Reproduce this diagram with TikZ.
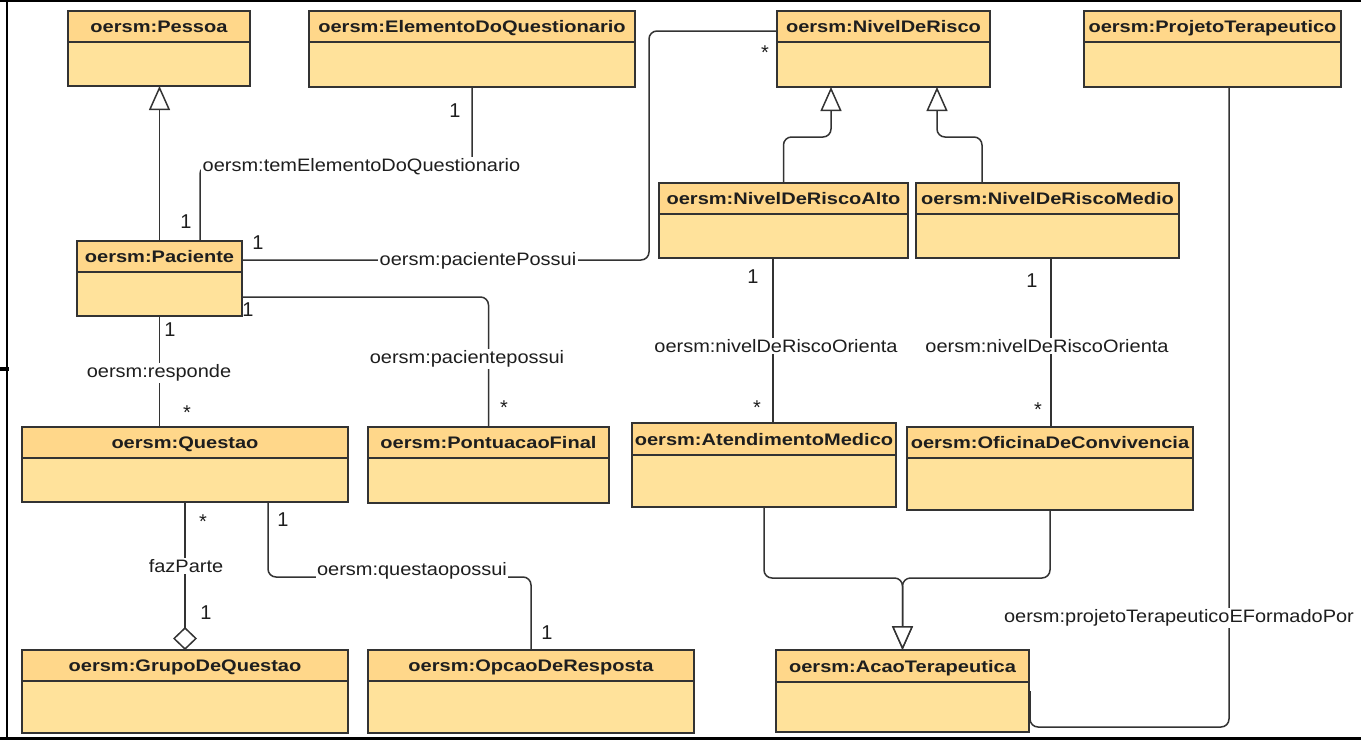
\documentclass[tikz,border=0pt]{standalone}
\usepackage{fontspec}
\setmainfont{Liberation Sans}
\newfontfamily\hdrfont[FakeStretch=1.2]{Liberation Sans}
\newfontfamily\lblfont[FakeStretch=1.11]{Liberation Sans}
\usetikzlibrary{arrows.meta}
\definecolor{hdrfill}{HTML}{FFD78A}
\definecolor{bodyfill}{HTML}{FFE29B}
\definecolor{edge}{HTML}{333333}
\definecolor{ink}{HTML}{1E1E1E}
\tikzset{
 classbox/.style={draw=edge, line width=1.8pt, fill=bodyfill, inner sep=0pt, outer sep=0pt, rectangle},
 hdrtext/.style={font=\hdrfont\bfseries\fontsize{16.7}{18}\selectfont, text=ink, inner sep=0pt, text height=12pt, text depth=0pt},
 lbl/.style={font=\lblfont\fontsize{18}{20}\selectfont, text=ink, fill=white, inner sep=1.5pt},
 mult/.style={font=\fontsize{20}{22}\selectfont, text=ink, inner sep=0pt},
 assoc/.style={draw=edge, line width=1.5pt, rounded corners=8pt},
 gen/.style={assoc, -{Triangle[length=24pt,width=21pt,fill=white]}},
 agg/.style={assoc, -{Diamond[length=23pt,width=24pt,fill=white]}},
}
\newcommand\umlclass[7]{%
 \node[classbox, minimum width={(#4-#2)*1pt}, minimum height={(#5-#3)*1pt}] (#1) at ({(#2+#4)/2},{(#3+#5)/2}) {};
 \fill[hdrfill] (#2,#3) rectangle (#4,#6);
 \draw[draw=edge, line width=1.8pt] (#2,#6) -- (#4,#6);
 \draw[draw=edge, line width=1.8pt] (#1.north west) rectangle (#1.south east);
 \node[hdrtext] (#1-t) at ({(#2+#4)/2},{(#3+#6)/2}) {#7};
}
\begin{document}
\begin{tikzpicture}[x=1pt,y=-1pt]
\useasboundingbox (0,0) rectangle (1361,740);
% frame
\draw[line width=2.5pt, black] (0,1) -- (1361,1);
\draw[line width=2.5pt, black] (7,0) -- (7,740);
\draw[line width=4pt, black] (0,369) -- (9,369);
\draw[line width=3pt, black] (0,738) -- (1361,738);
% classes
\umlclass{pessoa}{68}{11}{250}{86}{42}{oersm:Pessoa}
\umlclass{elem}{309}{11}{635}{87}{42}{oersm:ElementoDoQuestionario}
\umlclass{nivel}{777}{11}{990}{87}{42}{oersm:NivelDeRisco}
\umlclass{projeto}{1084}{11}{1341}{87}{42}{oersm:ProjetoTerapeutico}
\umlclass{paciente}{77}{241}{242}{316}{272}{oersm:Paciente}
\umlclass{alto}{659}{183}{908}{258}{214}{oersm:NivelDeRiscoAlto}
\umlclass{medio}{916}{183}{1179}{258}{214}{oersm:NivelDeRiscoMedio}
\umlclass{questao}{22}{427}{348}{502}{458}{oersm:Questao}
\umlclass{pontuacao}{368}{427}{609}{503}{458}{oersm:PontuacaoFinal}
\umlclass{atend}{632}{423}{896}{507}{455}{oersm:AtendimentoMedico}
\umlclass{oficina}{907}{427}{1193}{510}{458}{oersm:OficinaDeConvivencia}
\umlclass{grupo}{22}{650}{348}{733}{681}{oersm:GrupoDeQuestao}
\umlclass{opcao}{368}{650}{694}{733}{681}{oersm:OpcaoDeResposta}
\umlclass{acao}{776}{650}{1029}{732}{682}{oersm:AcaoTerapeutica}
% Paciente -> Pessoa
\draw[gen] (paciente.north) -- (paciente.north |- pessoa.south);
% temElementoDoQuestionario
\draw[assoc] ([xshift=40.5pt]paciente.north) -- ++(0,-75) -| (elem.south);
\node[lbl] (l1) at (361.5,167) {oersm:temElementoDoQuestionario};
\node[mult] (m1) at (455,111) {1};
\node[mult] (m2) at (186,222) {1};
% pacientePossui
\draw[assoc] ([yshift=18.5pt]paciente.east) -| (649,31) -- ([yshift=18pt]nivel.west);
\node[lbl] (l2) at (478,261) {oersm:pacientePossui};
\node[mult] (m3) at (258,243) {1};
\node[mult] (m4) at (765,53) {*};
% pacientepossui
\draw[assoc] ([yshift=-18.5pt]paciente.east) -| (pontuacao.north);
\node[lbl] (l3) at (467,359) {oersm:pacientepossui};
\node[mult] (m5) at (248,310) {1};
\node[mult] (m6) at (504,408) {*};
% responde
\draw[assoc] (paciente.south) -- (paciente.south |- questao.north);
\node[lbl] (l4) at (159,373) {oersm:responde};
\node[mult] (m7) at (170,330) {1};
\node[mult] (m8) at (187,413) {*};
% fazParte
\draw[agg] (questao.south) -- (grupo.north);
\node[lbl] (l5) at (186,566) {fazParte};
\node[mult] (m9) at (203,522) {*};
\node[mult] (m10) at (206,613) {1};
% questaopossui
\draw[assoc] ([xshift=83pt]questao.south) -- ++(0,75) -| (opcao.north);
\node[lbl] (l6) at (412,571) {oersm:questaopossui};
\node[mult] (m11) at (283,520) {1};
\node[mult] (m12) at (547,633) {1};
% generalizations to NivelDeRisco
\draw[gen] (alto.north) -- ++(0,-46) -| ([xshift=-52.5pt]nivel.south);
\draw[gen] ([xshift=-65.5pt]medio.north) -- ++(0,-46) -| ([xshift=53.5pt]nivel.south);
% nivelDeRiscoOrienta
\draw[assoc] ([xshift=-10.5pt]alto.south) -- ([xshift=9pt]atend.north);
\node[lbl] (l7) at (776,346) {oersm:nivelDeRiscoOrienta};
\node[mult] (m13) at (753,277) {1};
\node[mult] (m14) at (757,408) {*};
\draw[assoc] ([xshift=3.5pt]medio.south) -- ([xshift=1pt]oficina.north);
\node[lbl] (l8) at (1047,346) {oersm:nivelDeRiscoOrienta};
\node[mult] (m15) at (1032,281) {1};
\node[mult] (m16) at (1038,410) {*};
% generalizations to AcaoTerapeutica
\draw[gen] (atend.south) -- ++(0,71) -| (acao.north);
\draw[gen] (oficina.south) -- ++(0,68) -| (acao.north);
% projetoTerapeuticoEFormadoPor
\draw[assoc] ([xshift=16.5pt]projeto.south) |- ([xshift=1pt,yshift=-36pt]acao.east) -- ([xshift=1pt]acao.east);
\node[lbl] (l9) at (1179,618) {oersm:projetoTerapeuticoEFormadoPor};
\end{tikzpicture}
\end{document}
